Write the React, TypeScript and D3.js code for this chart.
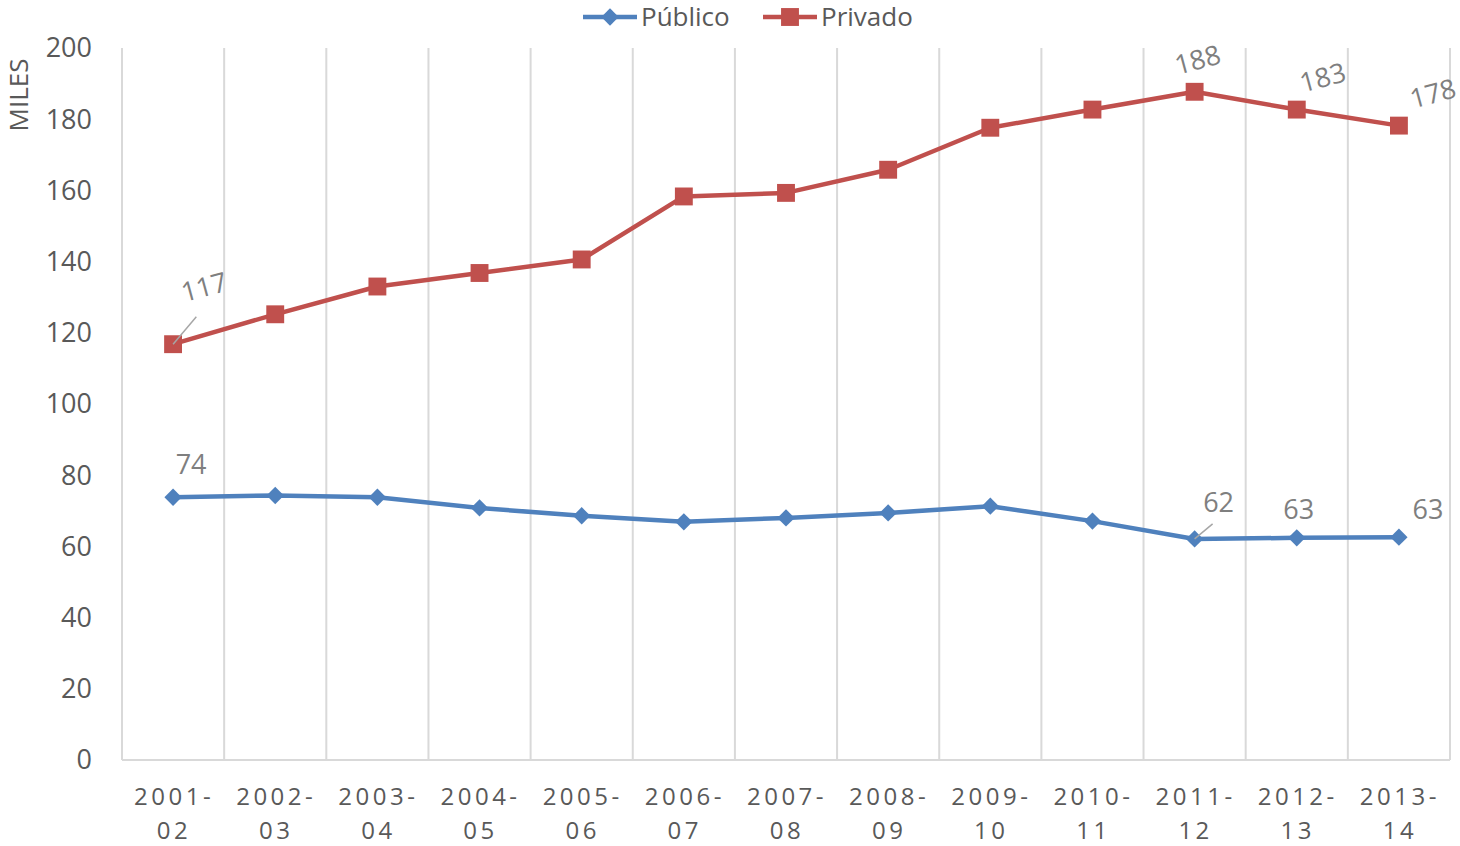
import React, { useEffect, useRef } from 'react';
import * as d3 from 'd3';

const categories = ['2001-02', '2002-03', '2003-04', '2004-05', '2005-06', '2006-07', '2007-08', '2008-09', '2009-10', '2010-11', '2011-12', '2012-13', '2013-14'];
const publico = [73.8, 74.3, 73.8, 70.8, 68.6, 66.9, 68, 69.4, 71.3, 67.1, 62.1, 62.4, 62.6];
const privado = [116.8, 125.2, 133, 136.8, 140.6, 158.3, 159.3, 165.8, 177.6, 182.7, 187.7, 182.7, 178.2];
const yTicks = [0, 20, 40, 60, 80, 100, 120, 140, 160, 180, 200];

// which points carry a data label: [index, text, dx, dy, rotate, leader]
const publicoLabels: [number, string, number, number, number, boolean][] = [
  [0, '74', 18, -33, 0, false],
  [10, '62', 24, -36, 0, true],
  [11, '63', 2, -28, 0, false],
  [12, '63', 29, -28, 0, false],
];
const privadoLabels: [number, string, number, number, number, boolean][] = [
  [0, '117', 31, -57, -15, true],
  [10, '188', 3, -32, -15, false],
  [11, '183', 26, -32, -15, false],
  [12, '178', 34, -32, -15, false],
];

const FONT = '"Open Sans", "Liberation Sans", sans-serif';

export default function App() {
  const ref = useRef<SVGSVGElement>(null);

  useEffect(() => {
    const width = 1460;
    const height = 846;
    const margin = { top: 48, right: 10, bottom: 86, left: 122 };
    const svg = d3.select(ref.current);
    svg.selectAll('*').remove();

    const x = d3.scaleBand<string>()
      .domain(categories)
      .range([margin.left, width - margin.right])
      .padding(0);
    const y = d3.scaleLinear()
      .domain([0, 200])
      .range([height - margin.bottom, margin.top]);
    const bw = x.bandwidth();
    const cx = (i: number) => (x(categories[i]) as number) + bw / 2;

    // vertical gridlines at category boundaries
    const bounds = categories.map((c) => x(c) as number).concat([width - margin.right]);
    svg.append('g')
      .selectAll('line')
      .data(bounds)
      .join('line')
      .attr('x1', (d) => d).attr('x2', (d) => d)
      .attr('y1', y(200)).attr('y2', y(0))
      .attr('stroke', '#d9d9d9')
      .attr('stroke-width', 2);

    // bottom axis line
    svg.append('line')
      .attr('x1', margin.left).attr('x2', width - margin.right)
      .attr('y1', y(0)).attr('y2', y(0))
      .attr('stroke', '#d9d9d9')
      .attr('stroke-width', 2);

    // y tick labels
    svg.append('g')
      .selectAll('text')
      .data(yTicks)
      .join('text')
      .attr('x', 92)
      .attr('y', (d) => y(d))
      .attr('dy', '0.35em')
      .attr('text-anchor', 'end')
      .attr('font-family', FONT)
      .attr('font-size', 27)
      .attr('fill', '#595959')
      .text((d) => d);

    // y title
    svg.append('text')
      .attr('transform', 'translate(19,95) rotate(-90)')
      .attr('text-anchor', 'middle')
      .attr('dy', '0.35em')
      .attr('font-family', FONT)
      .attr('font-size', 26)
      .attr('fill', '#595959')
      .text('MILES');

    // x labels (two lines)
    const xl = svg.append('g')
      .selectAll('text')
      .data(categories)
      .join('text')
      .attr('text-anchor', 'middle')
      .attr('font-family', FONT)
      .attr('font-size', 24)
      .attr('letter-spacing', 3.5)
      .attr('fill', '#595959');
    xl.append('tspan')
      .attr('x', (d) => (x(d) as number) + bw / 2 + 1)
      .attr('y', 805)
      .text((d) => d.split('-')[0] + '-');
    xl.append('tspan')
      .attr('x', (d) => (x(d) as number) + bw / 2 + 1)
      .attr('y', 839)
      .text((d) => d.split('-')[1]);

    const line = d3.line<number>()
      .x((_, i) => cx(i))
      .y((d) => y(d));

    const drawSeries = (vals: number[], color: string, shape: 'diamond' | 'square') => {
      svg.append('path')
        .datum(vals)
        .attr('d', line)
        .attr('fill', 'none')
        .attr('stroke', color)
        .attr('stroke-width', 4.5)
        .attr('stroke-linejoin', 'round');
      const sym = d3.symbol()
        .type(d3.symbolSquare)
        .size(shape === 'diamond' ? 150 : 320);
      svg.append('g')
        .selectAll('path')
        .data(vals)
        .join('path')
        .attr('d', sym as any)
        .attr('transform', (d, i) => `translate(${cx(i)},${y(d)})` + (shape === 'diamond' ? ' rotate(45)' : ''))
        .attr('fill', color);
    };

    const drawLabels = (vals: number[], labels: [number, string, number, number, number, boolean][]) => {
      labels.forEach(([i, t, dx, dy, rot, leader]) => {
        const px = cx(i);
        const py = y(vals[i]);
        if (leader) {
          svg.append('line')
            .attr('x1', px).attr('y1', py)
            .attr('x2', px + dx * 0.75).attr('y2', py + dy * (rot ? 0.48 : 0.42))
            .attr('stroke', '#a6a6a6')
            .attr('stroke-width', 1.5);
        }
        svg.append('text')
          .attr('transform', `translate(${px + dx},${py + dy}) rotate(${rot})`)
          .attr('text-anchor', 'middle')
          .attr('dy', '0.35em')
          .attr('font-family', FONT)
          .attr('font-size', 27)
          .attr('fill', '#7f7f7f')
          .text(t);
      });
    };

    drawSeries(publico, '#4f81bd', 'diamond');
    drawSeries(privado, '#c0504d', 'square');
    drawLabels(publico, publicoLabels);
    drawLabels(privado, privadoLabels);

    // legend
    const legend = [
      { name: 'Público', color: '#4f81bd', shape: 'diamond', x0: 583 },
      { name: 'Privado', color: '#c0504d', shape: 'square', x0: 763 },
    ];
    legend.forEach((l) => {
      const g = svg.append('g');
      g.append('line')
        .attr('x1', l.x0).attr('x2', l.x0 + 54)
        .attr('y1', 17).attr('y2', 17)
        .attr('stroke', l.color)
        .attr('stroke-width', 4.5);
      g.append('path')
        .attr('d', d3.symbol().type(d3.symbolSquare).size(l.shape === 'diamond' ? 150 : 320) as any)
        .attr('transform', `translate(${l.x0 + 27},17)` + (l.shape === 'diamond' ? ' rotate(45)' : ''))
        .attr('fill', l.color);
      g.append('text')
        .attr('x', l.x0 + 58)
        .attr('y', 17)
        .attr('dy', '0.35em')
        .attr('font-family', FONT)
        .attr('font-size', 26)
        .attr('fill', '#595959')
        .text(l.name);
    });
  }, []);

  return (
    <div style={{ position: 'absolute', left: 0, top: 0 }}>
      <svg ref={ref} width={1460} height={846} style={{ display: 'block', background: '#fff' }} />
    </div>
  );
}
